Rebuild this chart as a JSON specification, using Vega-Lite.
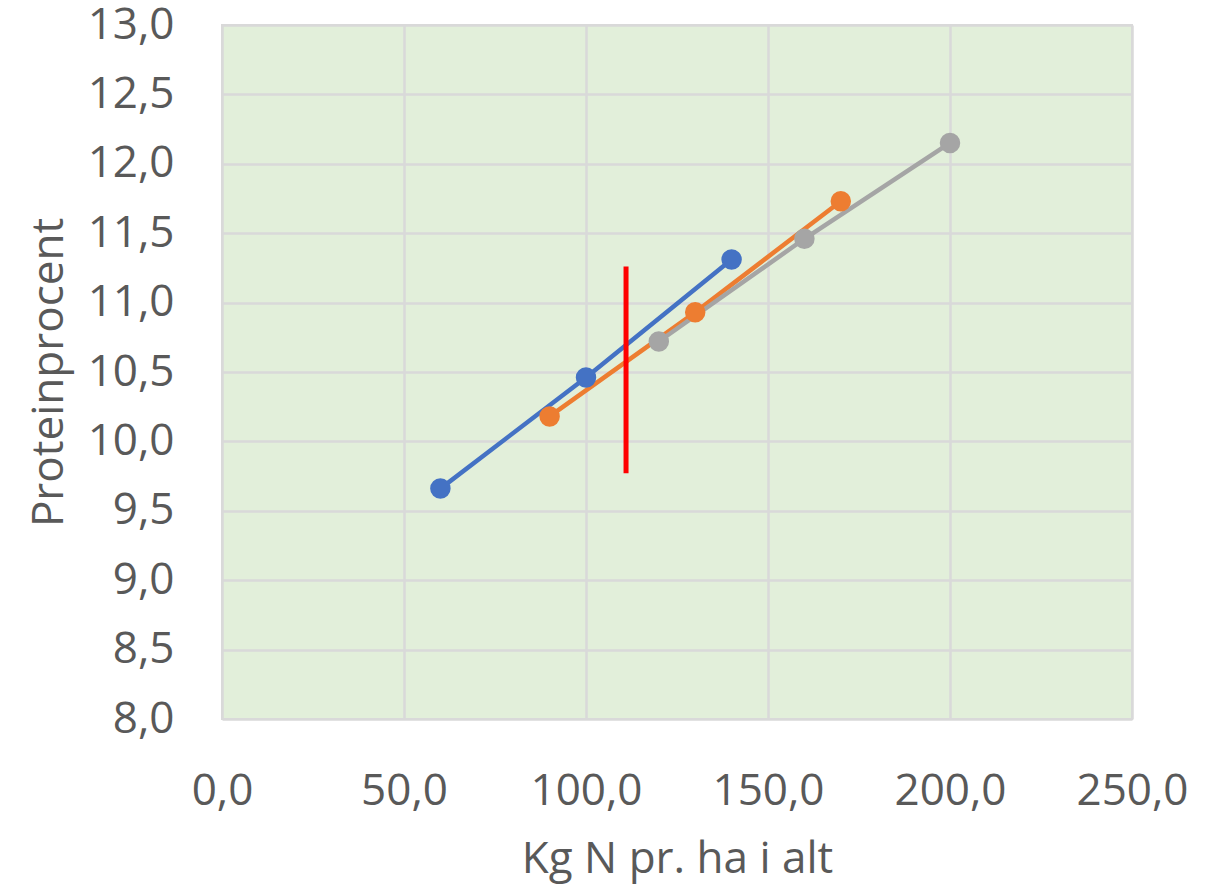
{
  "$schema": "https://vega.github.io/schema/vega-lite/v6.json",
  "width": 910,
  "height": 694,
  "autosize": "none",
  "padding": {"left": 222, "top": 25, "right": 77, "bottom": 177},
  "background": "#ffffff",
  "config": {
    "font": "Open Sans",
    "view": {"fill": "#E2EFDA", "stroke": "#D9D9D9", "strokeWidth": 2},
    "axis": {
      "labelFont": "Open Sans",
      "titleFont": "Open Sans",
      "labelColor": "#595959",
      "titleColor": "#595959",
      "labelFontSize": 44,
      "titleFontSize": 44,
      "titleFontWeight": "normal",
      "gridColor": "#D9D9D9",
      "gridWidth": 2.5,
      "domainColor": "#C8C8C8",
      "domainWidth": 2.5,
      "ticks": false,
      "labelFlush": false,
      "labelOverlap": false,
      "labelBound": false
    }
  },
  "datasets": {
    "series": [
      {"serie": "Serie 1", "kgN": 60, "protein": 9.66},
      {"serie": "Serie 1", "kgN": 100, "protein": 10.46},
      {"serie": "Serie 1", "kgN": 140, "protein": 11.31},
      {"serie": "Serie 2", "kgN": 90, "protein": 10.18},
      {"serie": "Serie 2", "kgN": 130, "protein": 10.93},
      {"serie": "Serie 2", "kgN": 170, "protein": 11.73},
      {"serie": "Serie 3", "kgN": 120, "protein": 10.72},
      {"serie": "Serie 3", "kgN": 160, "protein": 11.46},
      {"serie": "Serie 3", "kgN": 200, "protein": 12.15}
    ],
    "redline": [
      {"kgN": 111, "y1": 11.26, "y2": 9.77}
    ]
  },
  "layer": [
    {
      "data": {"name": "series"},
      "mark": {"type": "line", "strokeWidth": 4.5, "point": {"filled": true, "size": 420, "opacity": 1}},
      "encoding": {
        "x": {
          "field": "kgN", "type": "quantitative",
          "scale": {"domain": [0, 250], "nice": false, "zero": false},
          "axis": {
            "values": [0, 50, 100, 150, 200, 250],
            "labelExpr": "replace(format(datum.value, '.1f'), '.', ',')",
            "labelPadding": 50,
            "title": "Kg N pr. ha i alt",
            "titlePadding": 24,
            "domain": false
          }
        },
        "y": {
          "field": "protein", "type": "quantitative",
          "scale": {"domain": [8, 13], "nice": false, "zero": false},
          "axis": {
            "values": [8, 8.5, 9, 9.5, 10, 10.5, 11, 11.5, 12, 12.5, 13],
            "labelExpr": "replace(format(datum.value, '.1f'), '.', ',')",
            "labelPadding": 48,
            "title": "Proteinprocent",
            "titlePadding": 16,
            "domain": false
          }
        },
        "color": {
          "field": "serie", "type": "nominal",
          "scale": {"domain": ["Serie 1", "Serie 2", "Serie 3"], "range": ["#4472C4", "#ED7D31", "#A5A5A5"]},
          "legend": null
        },
        "order": {"field": "kgN", "type": "quantitative"}
      }
    },
    {
      "data": {"name": "redline"},
      "mark": {"type": "rule", "color": "#FF0000", "strokeWidth": 5},
      "encoding": {
        "x": {"field": "kgN", "type": "quantitative"},
        "y": {"field": "y1", "type": "quantitative"},
        "y2": {"field": "y2"}
      }
    }
  ]
}
